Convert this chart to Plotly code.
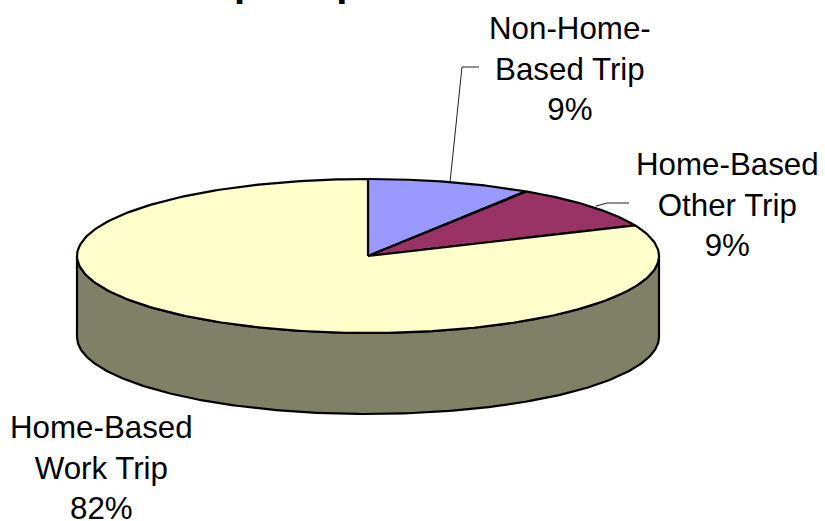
import numpy as np
import plotly.graph_objects as go

categories = ["Non-Home-<br>Based Trip", "Home-Based<br>Other Trip", "Home-Based<br>Work Trip"]
shares = [9.1, 9.4, 81.5]
slice_colors = ["#9999FF", "#993366", "#FFFFCC"]
side_color = "#808066"
title_text = "Trip Purpose"

W, H = 825, 521
CX, CY, RX, RY, DEPTH = 368, 256, 291, 77, 81
FONT = "Liberation Sans, Arial, sans-serif"


def rim(a0, a1, n=240, dy=0):
    a = np.radians(np.linspace(a0, a1, n))
    return CX + RX * np.sin(a), CY + dy - RY * np.cos(a)


fig = go.Figure()

# side wall: the front half of the disc, extruded down
tx, ty = rim(90, 270)
bx, by = rim(270, 90, dy=DEPTH)
fig.add_trace(go.Scatter(
    x=np.r_[tx, bx, tx[0]], y=np.r_[ty, by, ty[0]], mode="lines", fill="toself",
    fillcolor=side_color, line=dict(color="black", width=2.2), hoverinfo="skip"))

# top face
edges = np.r_[0, np.cumsum(shares)] / sum(shares) * 360
for k, cat in enumerate(categories):
    x, y = rim(edges[k], edges[k + 1])
    fig.add_trace(go.Scatter(
        x=np.r_[CX, x, CX], y=np.r_[CY, y, CY], mode="lines", fill="toself",
        fillcolor=slice_colors[k], line=dict(color="black", width=2.2),
        name=cat.replace("<br>", " "), hoverinfo="skip"))

# leader lines start at the rim, at the middle of each slice
mids = (edges[:-1] + edges[1:]) / 2
x0, y0 = rim(mids[0], mids[0], 1)
fig.add_trace(go.Scatter(x=[x0[0], 462, 479], y=[y0[0], 67, 67], mode="lines",
                         line=dict(color="#222222", width=1), hoverinfo="skip"))
x1, y1 = rim(mids[1], mids[1], 1)
fig.add_trace(go.Scatter(x=[x1[0] + 6, 607, 629], y=[y1[0], 203, 203], mode="lines",
                         line=dict(color="#222222", width=1), hoverinfo="skip"))

label_pos = [(570, 69), (727, 205), (101, 468)]
annotations = [
    dict(x=p[0], y=p[1], text=f"{c}<br>{s:.0f}%", showarrow=False, xanchor="center",
         yanchor="middle", align="center", font=dict(family=FONT, size=31.3, color="black"))
    for c, s, p in zip(categories, shares, label_pos)
]
annotations.append(dict(x=183, y=6.5, text=f"<b>{title_text}</b>", showarrow=False,
                        xanchor="left", yanchor="bottom",
                        font=dict(family=FONT, size=40, color="black")))

fig.update_layout(
    width=W, height=H, margin=dict(l=0, r=0, t=0, b=0), showlegend=False,
    paper_bgcolor="white", plot_bgcolor="white", annotations=annotations,
    xaxis=dict(range=[0, W], visible=False, fixedrange=True),
    yaxis=dict(range=[H, 0], visible=False, fixedrange=True),
)
fig.write_html("out.html", config=dict(displayModeBar=False),
               post_script="document.body.style.margin='0';document.documentElement.style.overflow='hidden';")
